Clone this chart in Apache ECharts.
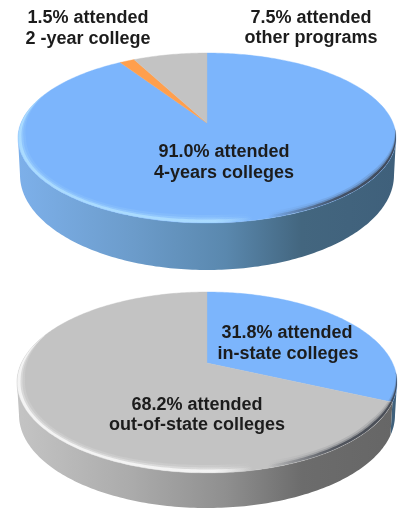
<!DOCTYPE html>
<html><head><meta charset="utf-8">
<style>html,body{margin:0;padding:0;background:#fff}#c{width:401px;height:508px}</style>
<script src="https://cdn.jsdelivr.net/npm/echarts@6/dist/echarts.min.js"></script></head>
<body><div id="c"></div>
<script>
// Data
const topCategories = ['4-years colleges', '2-year college', 'other programs'];
const topValues = [91.0, 1.5, 7.5];
const bottomCategories = ['in-state colleges', 'out-of-state colleges'];
const bottomValues = [31.8, 68.2];
const topTexts = ['1.5% attended', '2 -year college', '7.5% attended', 'other programs', '91.0% attended', '4-years colleges'];
const bottomTexts = ['31.8% attended', 'in-state colleges', '68.2% attended', 'out-of-state colleges'];

// Styles and layout
const topFaces = ['#7cb5fc', '#ff9f4d', '#c3c3c3'];
const bottomFaces = ['#7cb5fc', '#c3c3c3'];
const blueWall = [[0, '#7db0ea'], [.3, '#6c9ccb'], [.55, '#5a88ae'], [.75, '#43667f'], [1, '#3f607b']];
const greyWall = [[0, '#c4c4c4'], [.3, '#ababab'], [.55, '#8f8f8f'], [.75, '#6c6c6c'], [1, '#666666']];
const blueBevel = 'rgba(176,224,255,';
const greyBevel = 'rgba(250,250,250,';
const topGeom = {cx: 207, apexY: 123, back: 70, front: 100, rx: 189, lowCy: 175, lowRx: 187, lowRy: 95};
const bottomGeom = {cx: 207, apexY: 363, back: 71, front: 110, rx: 190, lowCy: 415, lowRx: 188, lowRy: 93};
const topPos = [[88, 18], [88, 39], [311, 18], [311, 38], [224, 152], [224, 173]];
const bottomPos = [[287, 333], [288, 354], [197, 405], [197, 425]];

function projector(g) {
  const B = 2 / (1 / g.back + 1 / g.front);
  const k = B / g.back - 1;
  const A = g.rx * Math.sqrt(1 - k * k);
  const cy = g.apexY + (g.front - g.back) / 2;
  const ry = (g.front + g.back) / 2;
  const theta0 = Math.acos(-k);
  const top = t => {
    const w = 1 + k * Math.cos(t);
    return [g.cx + A * Math.sin(t) / w, g.apexY - B * Math.cos(t) / w];
  };
  const low = t => {
    const p = top(t);
    return [g.cx + (p[0] - g.cx) / g.rx * g.lowRx, g.lowCy + (p[1] - cy) / ry * g.lowRy];
  };
  return {top, low, theta0, cy};
}
function arc(fn, a, b) {
  const n = Math.max(2, Math.ceil(Math.abs(b - a) * 60));
  const out = [];
  for (let i = 0; i <= n; i++) out.push(fn(a + (b - a) * i / n));
  return out;
}
function grad(g, stops) {
  return {type: 'linear', global: true, x: g.cx - g.rx, y: 0, x2: g.cx + g.rx, y2: 0,
    colorStops: stops.map(s => ({offset: s[0], color: s[1]}))};
}
function makeSeries(values, faces, wallOf, bevelOf, g) {
  const P = projector(g);
  const data = [];
  let sum = 0;
  values.forEach(v => { data.push([sum, sum + v]); sum += v; });
  const bevelStart = P.theta0 - 0.12, bevelEnd = 2 * Math.PI - 1.2;
  const taper = t => Math.min(1, Math.min(t - bevelStart, bevelEnd - t) / 0.55);
  const inset = (t, w) => {
    const p = P.top(t);
    const dx = g.cx - p[0], dy = P.cy - p[1];
    const d = Math.hypot(dx, dy);
    const f = w * Math.max(0, taper(t)) / d;
    return [p[0] + dx * f, p[1] + dy * f];
  };
  return {
    type: 'custom', coordinateSystem: 'none', silent: true, data,
    renderItem(params, api) {
      const i = params.dataIndex;
      const a = api.value(0) / 100 * 2 * Math.PI, b = api.value(1) / 100 * 2 * Math.PI;
      const kids = [];
      const f0 = P.theta0, f1 = 2 * Math.PI - P.theta0;
      const wa = Math.max(a, f0), wb = Math.min(b, f1);
      if (wb > wa) {
        const pts = arc(P.top, wa, wb).concat(arc(P.low, wb, wa));
        kids.push({type: 'polygon', shape: {points: pts}, style: {fill: grad(g, wallOf(i)), stroke: null}});
      }
      const facePts = [[g.cx, g.apexY]].concat(arc(P.top, a, b));
      kids.push({type: 'polygon', shape: {points: facePts}, style: {fill: faces[i], stroke: faces[i], lineWidth: 0.4}});
      const ba = Math.max(a, bevelStart), bb = Math.min(b, bevelEnd);
      if (bb > ba) {
        const c = bevelOf(i);
        const dark = 'rgba(55,60,70,';
        // soft band along the front rim: light on the left, shadow on the right
        [[8, .14], [5.5, .3], [3.5, .8]].forEach(([w, o]) => {
          const pts = arc(t => inset(t, 0.3), ba, bb).concat(arc(t => inset(t, w), bb, ba));
          kids.push({type: 'polygon', shape: {points: pts}, style: {stroke: null,
            fill: grad(g, [[0, c + o + ')'], [.52, c + o + ')'], [.62, c + '0)'], [.66, dark + '0)'], [.85, dark + o * .9 + ')'], [1, dark + o + ')']])}});
        });
      }
      return {type: 'group', children: kids};
    }
  };
}
function texts(list, pos) {
  return list.map((t, i) => ({type: 'text', x: pos[i][0], y: pos[i][1] + 0.5, silent: true, z: 100,
    style: {text: t, align: 'center', verticalAlign: 'middle', fill: '#1c1c1c',
      font: 'bold 18px "Liberation Sans", Arial, sans-serif'}}));
}
const chart = echarts.init(document.getElementById('c'), null, {renderer: 'canvas'});
chart.setOption({
  animation: false, backgroundColor: '#fff',
  series: [
    Object.assign(makeSeries(topValues, topFaces, i => blueWall, i => blueBevel, topGeom), {name: topCategories.join(', ')}),
    Object.assign(makeSeries(bottomValues, bottomFaces, i => i === 0 ? blueWall : greyWall, i => i === 0 ? blueBevel : greyBevel, bottomGeom), {name: bottomCategories.join(', ')})
  ],
  graphic: {elements: texts(topTexts, topPos).concat(texts(bottomTexts, bottomPos))}
});
</script></body></html>
